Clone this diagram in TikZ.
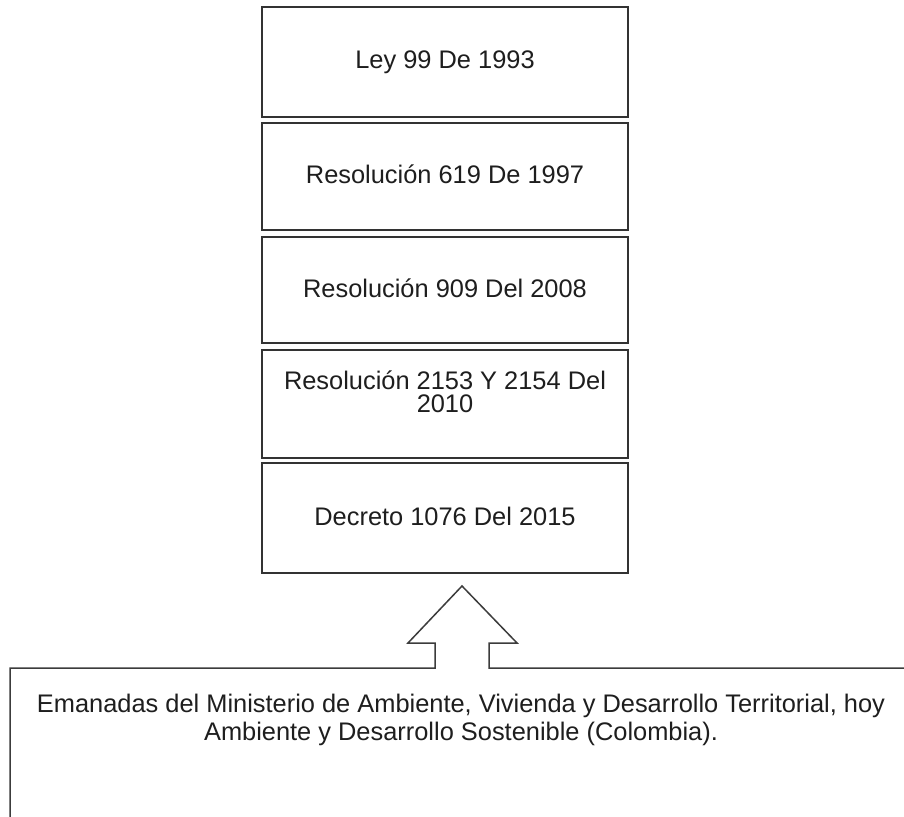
\documentclass[tikz,border=0pt]{standalone}
\usepackage{fontspec}
\setmainfont{Liberation Sans}
\definecolor{linec}{HTML}{333333}
\definecolor{arrc}{HTML}{3C3C3C}
\definecolor{txtc}{HTML}{1E1E1E}
\begin{document}
\begin{tikzpicture}[x=1pt,y=-1pt,
  box/.style={draw=linec,line width=2pt,minimum width=366pt,inner sep=0pt,fill=white},
  lbl/.style={anchor=base,inner sep=0pt,text=txtc,font=\fontsize{25.4pt}{28pt}\selectfont}]
\useasboundingbox (0,0) rectangle (904,816);
\fill[white] (0,0) rectangle (904,816);
% stacked boxes
\node[box,minimum height=110pt] (b1) at (445,62) {};
\node[box,minimum height=107pt] (b2) at (445,176.5) {};
\node[box,minimum height=106pt] (b3) at (445,290) {};
\node[box,minimum height=108pt] (b4) at (445,404) {};
\node[box,minimum height=110pt] (b5) at (445,518) {};
\node[lbl] (t1) at (445,69) {Ley 99 De 1993};
\node[lbl] (t2) at (445,183) {Resolución 619 De 1997};
\node[lbl] (t3) at (445,297) {Resolución 909 Del 2008};
\node[lbl,align=center,font=\fontsize{25.4pt}{23pt}\selectfont] (t4) at (445,412) {Resolución 2153 Y 2154 Del\\2010};
\node[lbl] (t5) at (445,525) {Decreto 1076 Del 2015};
% block arrow merged with the bottom box outline
\coordinate (bl) at (10,830);
\coordinate (tl) at (10,668);
\coordinate (sl) at (435,668);
\coordinate (sla) at (435,643);
\coordinate (hl) at (408,643);
\coordinate (tip) at (462,586);
\coordinate (hr) at (517,643);
\coordinate (sra) at (489,643);
\coordinate (sr) at (489,668);
\coordinate (tr) at (920,668);
\draw[arrc,line width=1.5pt,line join=miter] (bl) -- (tl) -- (sl) -- (sla) -- (hl) -- (tip) -- (hr) -- (sra) -- (sr) -- (tr);
\node[lbl,align=center] (e) at (461,740) {Emanadas del Ministerio de Ambiente, Vivienda y Desarrollo Territorial, hoy\\Ambiente y Desarrollo Sostenible (Colombia).};
\end{tikzpicture}
\end{document}
